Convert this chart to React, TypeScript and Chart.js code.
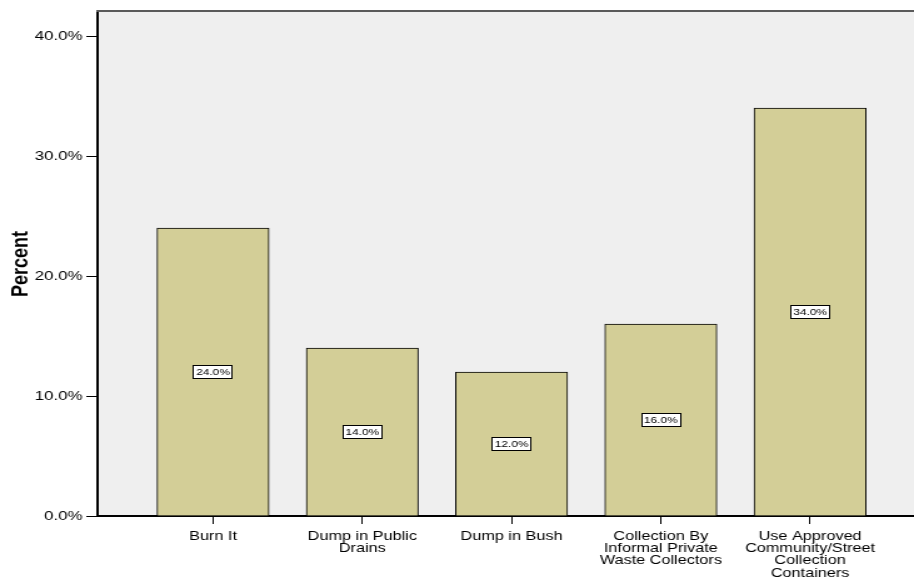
import { useEffect, useRef } from 'react';
import { Chart, registerables } from 'chart.js';

Chart.register(...registerables);

// Disposal methods and their share of respondents (%)
const categories: string[][] = [
  ['Burn It'],
  ['Dump in Public', 'Drains'],
  ['Dump in Bush'],
  ['Collection By', 'Informal Private', 'Waste Collectors'],
  ['Use Approved', 'Community/Street', 'Collection', 'Containers'],
];
const percents: number[] = [24.0, 14.0, 12.0, 16.0, 34.0];
const yTickValues: number[] = [0, 10, 20, 30, 40];
const yAxisTitle = 'Percent';

const FONT = 'Arial, "Liberation Sans", sans-serif';

// The chart is drawn on a narrower backing canvas and widened with CSS.
const RENDER_W = 731;
const RENDER_H = 581;
const SHOW_W = 914;

const framePlugin = {
  id: 'frame',
  beforeDraw(chart: any) {
    const { ctx, chartArea: a } = chart;
    ctx.save();
    ctx.fillStyle = '#efefef';
    ctx.fillRect(a.left, a.top, a.right - a.left, a.bottom - a.top);
    ctx.restore();
  },
  afterDraw(chart: any) {
    const { ctx, chartArea: a } = chart;
    ctx.save();
    ctx.fillStyle = '#5a5a5a';
    ctx.fillRect(a.left - 1, a.top - 2, a.right - a.left + 2, 2);
    ctx.restore();
  },
};

const valueBoxPlugin = {
  id: 'valueBoxes',
  afterDatasetsDraw(chart: any) {
    const { ctx } = chart;
    const meta = chart.getDatasetMeta(0);
    ctx.save();
    ctx.font = `9.5px ${FONT}`;
    meta.data.forEach((bar: any, i: number) => {
      const { x, y, base } = bar.getProps(['x', 'y', 'base'], true);
      const text = `${percents[i].toFixed(1)}%`;
      const w = Math.round(ctx.measureText(text).width + 5);
      const h = 14;
      const cy = (y + base) / 2;
      const left = Math.round(x - w / 2);
      const top = Math.round(cy - h / 2);
      ctx.fillStyle = '#ffffff';
      ctx.fillRect(left, top, w, h);
      ctx.strokeStyle = '#000000';
      ctx.lineWidth = 1;
      ctx.strokeRect(left + 0.5, top + 0.5, w - 1, h - 1);
      ctx.fillStyle = '#000000';
      ctx.textAlign = 'center';
      ctx.textBaseline = 'middle';
      ctx.fillText(text, x, cy + 0.5);
    });
    ctx.restore();
  },
};

function PercentBarChart() {
  const canvasRef = useRef<HTMLCanvasElement | null>(null);

  useEffect(() => {
    const canvas = canvasRef.current;
    if (!canvas) return;

    const chart = new Chart(canvas, {
      type: 'bar',
      data: {
        datasets: [
          {
            data: percents.map((v, i) => ({ x: i, y: v })),
            backgroundColor: '#d3ce97',
            borderColor: '#000000',
            borderWidth: 1,
            barThickness: 89.6,
          },
        ],
      },
      plugins: [framePlugin, valueBoxPlugin],
      options: {
        animation: false,
        responsive: false,
        devicePixelRatio: 1,
        layout: { padding: { top: 12, left: 0, right: 0, bottom: 0 } },
        plugins: {
          legend: { display: false },
          tooltip: { enabled: false },
        },
        scales: {
          x: {
            type: 'linear',
            position: 'bottom',
            min: -0.7737,
            max: 4.696,
            offset: false,
            afterBuildTicks: (scale: any) => {
              scale.ticks = categories.map((_, i) => ({ value: i }));
            },
            afterFit: (scale: any) => {
              scale.height = 65;
            },
            ticks: {
              autoSkip: false,
              maxRotation: 0,
              minRotation: 0,
              padding: 6,
              color: '#000000',
              font: { family: FONT, size: 13, lineHeight: 0.95 },
              callback: (value: any) => categories[Number(value)] ?? '',
            },
            grid: {
              drawOnChartArea: false,
              drawTicks: true,
              tickLength: 8,
              tickColor: '#000000',
              tickWidth: 1,
              offset: false,
            },
            border: { display: true, color: '#000000', width: 2 },
          },
          y: {
            type: 'linear',
            min: 0,
            max: 42,
            afterBuildTicks: (scale: any) => {
              scale.ticks = yTickValues.map((v) => ({ value: v }));
            },
            afterFit: (scale: any) => {
              scale.width = 78;
            },
            ticks: {
              padding: 3,
              color: '#000000',
              font: { family: FONT, size: 13.5 },
              callback: (value: any) => `${Number(value).toFixed(1)}%`,
            },
            grid: {
              drawOnChartArea: false,
              drawTicks: true,
              tickLength: 9,
              tickColor: '#000000',
              tickWidth: 1,
            },
            border: { display: true, color: '#000000', width: 2 },
            title: {
              display: true,
              text: yAxisTitle,
              color: '#000000',
              padding: { top: 6, bottom: 0 },
              font: { family: FONT, size: 18, weight: 'bold' },
            },
          },
        },
      },
    } as any);

    return () => chart.destroy();
  }, []);

  return (
    <div style={{ position: 'fixed', left: 0, top: 0, width: SHOW_W, height: RENDER_H, background: '#ffffff' }}>
      <canvas
        ref={canvasRef}
        width={RENDER_W}
        height={RENDER_H}
        style={{ display: 'block', width: `${SHOW_W}px`, height: `${RENDER_H}px` }}
      />
    </div>
  );
}

export default function App() {
  return <PercentBarChart />;
}
